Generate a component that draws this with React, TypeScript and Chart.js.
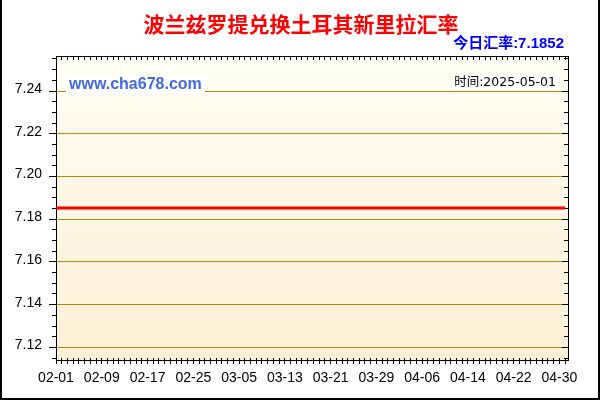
import React, { useEffect, useRef } from "react";
import { Chart, registerables } from "chart.js";

Chart.register(...registerables);

const titleText = "波兰兹罗提兑换土耳其新里拉汇率";
const todayRateText = "今日汇率:7.1852";
const siteText = "www.cha678.com";
const timeText = "时间:2025-05-01";

const dates = [
  "02-01", "02-02", "02-03", "02-04", "02-05", "02-06", "02-07", "02-08", "02-09", "02-10",
  "02-11", "02-12", "02-13", "02-14", "02-15", "02-16", "02-17", "02-18", "02-19", "02-20",
  "02-21", "02-22", "02-23", "02-24", "02-25", "02-26", "02-27", "02-28",
  "03-01", "03-02", "03-03", "03-04", "03-05", "03-06", "03-07", "03-08", "03-09", "03-10",
  "03-11", "03-12", "03-13", "03-14", "03-15", "03-16", "03-17", "03-18", "03-19", "03-20",
  "03-21", "03-22", "03-23", "03-24", "03-25", "03-26", "03-27", "03-28", "03-29", "03-30", "03-31",
  "04-01", "04-02", "04-03", "04-04", "04-05", "04-06", "04-07", "04-08", "04-09", "04-10",
  "04-11", "04-12", "04-13", "04-14", "04-15", "04-16", "04-17", "04-18", "04-19", "04-20",
  "04-21", "04-22", "04-23", "04-24", "04-25", "04-26", "04-27", "04-28", "04-29", "04-30",
  "05-01",
];

const rates = [
  7.1852, 7.1852, 7.1852, 7.1852, 7.1852, 7.1852, 7.1852, 7.1852, 7.1852, 7.1852,
  7.1852, 7.1852, 7.1852, 7.1852, 7.1852, 7.1852, 7.1852, 7.1852, 7.1852, 7.1852,
  7.1852, 7.1852, 7.1852, 7.1852, 7.1852, 7.1852, 7.1852, 7.1852,
  7.1852, 7.1852, 7.1852, 7.1852, 7.1852, 7.1852, 7.1852, 7.1852, 7.1852, 7.1852,
  7.1852, 7.1852, 7.1852, 7.1852, 7.1852, 7.1852, 7.1852, 7.1852, 7.1852, 7.1852,
  7.1852, 7.1852, 7.1852, 7.1852, 7.1852, 7.1852, 7.1852, 7.1852, 7.1852, 7.1852, 7.1852,
  7.1852, 7.1852, 7.1852, 7.1852, 7.1852, 7.1852, 7.1852, 7.1852, 7.1852, 7.1852,
  7.1852, 7.1852, 7.1852, 7.1852, 7.1852, 7.1852, 7.1852, 7.1852, 7.1852, 7.1852,
  7.1852, 7.1852, 7.1852, 7.1852, 7.1852, 7.1852, 7.1852, 7.1852, 7.1852, 7.1852,
  7.1852,
];

const labelEvery = 8;
const xMax = 89.5;
const yMin = 7.1141;
const yMax = 7.2564;
const yMajorStep = 0.02;
const yMinorStep = 0.005;

const axisFont = { family: "'Liberation Sans', Arial, sans-serif", size: 14 };

const bgPlugin = {
  id: "bgPlugin",
  beforeDraw(chart: any) {
    const { ctx, chartArea: a, width, height } = chart;
    ctx.save();
    ctx.fillStyle = "#ffffff";
    ctx.fillRect(0, 0, width, height);
    const g = ctx.createLinearGradient(0, a.top, 0, a.bottom);
    g.addColorStop(0, "#FEFEF4");
    g.addColorStop(1, "#FCEFD6");
    ctx.fillStyle = g;
    ctx.fillRect(a.left, a.top, a.right - a.left, a.bottom - a.top);
    ctx.restore();
  },
};

const textPlugin = {
  id: "textPlugin",
  afterDraw(chart: any) {
    const { ctx, width, height } = chart;
    ctx.save();
    // title
    ctx.fillStyle = "#FF0000";
    ctx.font = "bold 21px 'Noto Sans CJK SC', sans-serif";
    ctx.textAlign = "center";
    ctx.textBaseline = "middle";
    ctx.fillText(titleText, 301, 24.5);
    // today rate
    ctx.fillStyle = "#0000FF";
    ctx.font = "bold 15px 'Liberation Sans', 'Noto Sans CJK SC', sans-serif";
    ctx.textAlign = "right";
    ctx.textBaseline = "alphabetic";
    ctx.fillText(todayRateText, 564, 48);
    // site watermark
    ctx.fillStyle = "#ffffff";
    ctx.fillRect(66, 76, 139, 18);
    ctx.fillStyle = "#4169E1";
    ctx.font = "bold 16px 'Liberation Sans', Arial, sans-serif";
    ctx.textAlign = "left";
    ctx.fillText(siteText, 69, 89);
    // time
    ctx.font = "12.5px 'DejaVu Sans', 'Noto Sans CJK SC', sans-serif";
    const tw = ctx.measureText(timeText).width;
    ctx.fillStyle = "#ffffff";
    ctx.fillRect(556 - tw - 2, 75, tw + 4, 14);
    ctx.fillStyle = "#000000";
    ctx.textAlign = "right";
    ctx.fillText(timeText, 556, 86);
    // outer frame (left, right, bottom)
    ctx.fillStyle = "#000000";
    ctx.fillRect(0, 0, 2, height);
    ctx.fillRect(width - 2, 0, 2, height);
    ctx.fillRect(0, height - 2, width, 2);
    ctx.restore();
  },
};

export default function App() {
  const canvasRef = useRef<HTMLCanvasElement | null>(null);

  useEffect(() => {
    if (!canvasRef.current) return;
    const points = rates.map((v, i) => ({ x: i, y: v }));
    const zeroW = (s: any) => {
      s.width = 0;
    };
    const zeroH = (s: any) => {
      s.height = 0;
    };
    const chart = new Chart(canvasRef.current, {
      type: "line",
      data: {
        datasets: [
          {
            data: points,
            xAxisID: "x",
            yAxisID: "y",
            borderColor: "#FF0000",
            borderWidth: 3,
            pointRadius: 0,
            fill: false,
            tension: 0,
          },
        ],
      },
      options: {
        animation: false,
        responsive: false,
        maintainAspectRatio: false,
        events: [],
        layout: { padding: { left: 0, right: 32, top: 56, bottom: 0 } },
        plugins: {
          legend: { display: false },
          tooltip: { enabled: false },
          title: { display: false },
        },
        scales: {
          x: {
            type: "linear",
            position: "bottom",
            weight: 1,
            min: 0,
            max: xMax,
            afterFit: (s: any) => {
              s.height = 40;
            },
            ticks: {
              stepSize: 1,
              autoSkip: false,
              maxRotation: 0,
              minRotation: 0,
              includeBounds: false,
              padding: 6,
              color: "#000000",
              font: axisFont,
              callback: (v: any) => {
                const i = Math.round(Number(v));
                return i % labelEvery === 0 && dates[i] ? dates[i] : "";
              },
            },
            grid: { drawOnChartArea: false, tickLength: 4, tickColor: "#000000", color: "#000000" },
            border: { display: true, color: "#000000", width: 1 },
          },
          xIn: {
            type: "linear",
            position: "bottom",
            weight: 0,
            min: 0,
            max: xMax,
            afterFit: zeroH,
            ticks: { stepSize: 1, display: false, includeBounds: false },
            grid: { drawOnChartArea: false, tickLength: -2, tickColor: "#000000", color: "#000000" },
            border: { display: false },
          },
          xTop: {
            type: "linear",
            position: "top",
            min: 0,
            max: xMax,
            afterFit: zeroH,
            ticks: { stepSize: 1, display: false, includeBounds: false },
            grid: { drawOnChartArea: false, tickLength: -4, tickColor: "#000000", color: "#000000" },
            border: { display: true, color: "#000000", width: 1 },
          },
          y: {
            type: "linear",
            position: "left",
            weight: 2,
            min: yMin,
            max: yMax,
            afterFit: (s: any) => {
              s.width = 56;
            },
            ticks: {
              stepSize: yMajorStep,
              includeBounds: false,
              padding: 7,
              labelOffset: -2,
              color: "#000000",
              font: axisFont,
              callback: (v: any) => Number(v).toFixed(2),
            },
            grid: { color: "#B8860B", tickColor: "#000000", tickLength: 7, lineWidth: 1 },
            border: { display: true, color: "#000000", width: 1 },
          },
          yMinor: {
            type: "linear",
            position: "left",
            weight: 1,
            min: yMin,
            max: yMax,
            afterFit: zeroW,
            ticks: { stepSize: yMinorStep, display: false, includeBounds: false },
            grid: { drawOnChartArea: false, tickLength: 4, tickColor: "#000000", color: "#000000" },
            border: { display: false },
          },
          yRight: {
            type: "linear",
            position: "right",
            min: yMin,
            max: yMax,
            afterFit: zeroW,
            ticks: { stepSize: yMinorStep, display: false, includeBounds: false },
            grid: { drawOnChartArea: false, tickLength: -4, tickColor: "#000000", color: "#000000" },
            border: { display: true, color: "#000000", width: 1 },
          },
          yRightMajor: {
            type: "linear",
            position: "right",
            min: yMin,
            max: yMax,
            afterFit: zeroW,
            ticks: { stepSize: yMajorStep, display: false, includeBounds: false },
            grid: { drawOnChartArea: false, tickLength: -6, tickColor: "#000000", color: "#000000" },
            border: { display: false },
          },
        },
      } as any,
      plugins: [bgPlugin, textPlugin],
    });
    return () => chart.destroy();
  }, []);

  return (
    <div
      style={{
        position: "fixed",
        left: 0,
        top: 0,
        width: 600,
        height: 400,
        background: "#ffffff",
      }}
    >
      <canvas ref={canvasRef} width={600} height={400} style={{ display: "block" }} />
    </div>
  );
}
